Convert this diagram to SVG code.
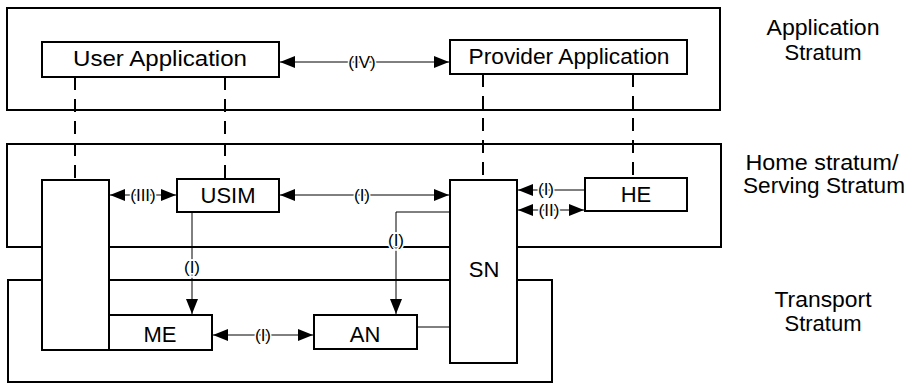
<svg xmlns="http://www.w3.org/2000/svg" width="912" height="384" viewBox="0 0 912 384">
<style>
text{font-family:"Liberation Sans",Arial,sans-serif;fill:#000}
.box{fill:#fff;stroke:#000;stroke-width:2}
.strat{fill:none;stroke:#000;stroke-width:2}
.lbl{font-size:22px;text-anchor:middle}
.st{font-size:22px;text-anchor:middle}
.sm{font-size:17px;text-anchor:middle;stroke:#fff;stroke-width:3;paint-order:stroke}
.ln{fill:none;stroke:#000;stroke-width:1}
.dash{fill:none;stroke:#000;stroke-width:2;stroke-dasharray:13 9}
</style>
<defs>
<marker id="ah" viewBox="0 0 15 12" refX="15" refY="6" markerWidth="15" markerHeight="12" markerUnits="userSpaceOnUse" orient="auto-start-reverse">
<path d="M0,0 L15,6 L0,12 Z" fill="#000"/>
</marker>
</defs>
<rect width="912" height="384" fill="#fff"/>
<g id="strata">
<rect class="strat" x="7" y="8" width="713" height="102"/>
<rect class="strat" x="7" y="144" width="714" height="103"/>
<rect class="strat" x="8" y="280" width="544" height="102"/>
<text class="st" x="823" y="35" textLength="113" lengthAdjust="spacingAndGlyphs">Application</text>
<text class="st" x="823" y="60">Stratum</text>
<text class="st" x="822" y="170" textLength="153" lengthAdjust="spacingAndGlyphs">Home stratum/</text>
<text class="st" x="824" y="193" textLength="162" lengthAdjust="spacingAndGlyphs">Serving Stratum</text>
<text class="st" x="823" y="307" textLength="97" lengthAdjust="spacingAndGlyphs">Transport</text>
<text class="st" x="823" y="331">Stratum</text>
</g>
<g id="dashed">
<line class="dash" x1="75" y1="77" x2="75" y2="180"/>
<line class="dash" x1="225" y1="77" x2="225" y2="179"/>
<line class="dash" x1="483" y1="74" x2="483" y2="180"/>
<line class="dash" x1="633" y1="74" x2="633" y2="178"/>
</g>
<g id="user-app">
<rect class="box" x="42" y="42" width="237" height="35"/>
<text class="lbl" x="160" y="66" textLength="174" lengthAdjust="spacingAndGlyphs">User Application</text>
</g>
<g id="provider-app">
<rect class="box" x="450" y="40" width="237" height="34"/>
<text class="lbl" x="569" y="64" textLength="201" lengthAdjust="spacingAndGlyphs">Provider Application</text>
</g>
<g id="terminal">
<rect class="box" x="42" y="180" width="67" height="170"/>
</g>
<g id="usim">
<rect class="box" x="177" y="179" width="102" height="33"/>
<text class="lbl" x="228" y="203">USIM</text>
</g>
<g id="sn">
<rect class="box" x="450" y="180" width="67" height="183"/>
<text class="lbl" x="484" y="277">SN</text>
</g>
<g id="he">
<rect class="box" x="585" y="178" width="102" height="33"/>
<text class="lbl" x="636" y="202">HE</text>
</g>
<g id="me">
<rect class="box" x="109" y="315" width="103" height="35"/>
<text class="lbl" x="160" y="342">ME</text>
</g>
<g id="an">
<rect class="box" x="314" y="315" width="103" height="34"/>
<text class="lbl" x="365" y="342">AN</text>
</g>
<g id="connectors">
<line class="ln" x1="280" y1="62" x2="449" y2="62" marker-start="url(#ah)" marker-end="url(#ah)"/>
<text class="sm" x="362" y="68">(IV)</text>
<line class="ln" x1="110" y1="195" x2="176" y2="195" marker-start="url(#ah)" marker-end="url(#ah)"/>
<text class="sm" x="143" y="201">(III)</text>
<line class="ln" x1="280" y1="195" x2="449" y2="195" marker-start="url(#ah)" marker-end="url(#ah)"/>
<text class="sm" x="362" y="201">(I)</text>
<line class="ln" x1="585" y1="190" x2="518" y2="190" marker-end="url(#ah)"/>
<text class="sm" x="546" y="195">(I)</text>
<line class="ln" x1="518" y1="210" x2="584" y2="210" marker-start="url(#ah)" marker-end="url(#ah)"/>
<text class="sm" x="549" y="216">(II)</text>
<line class="ln" x1="192" y1="212" x2="192" y2="314" marker-end="url(#ah)"/>
<text class="sm" x="192" y="273">(I)</text>
<polyline class="ln" points="450,212 396,212 396,314" marker-end="url(#ah)"/>
<text class="sm" x="396" y="246">(I)</text>
<line class="ln" x1="213" y1="335" x2="313" y2="335" marker-start="url(#ah)" marker-end="url(#ah)"/>
<text class="sm" x="263" y="341">(I)</text>
<line class="ln" x1="417" y1="327" x2="450" y2="327"/>
</g>
</svg>
